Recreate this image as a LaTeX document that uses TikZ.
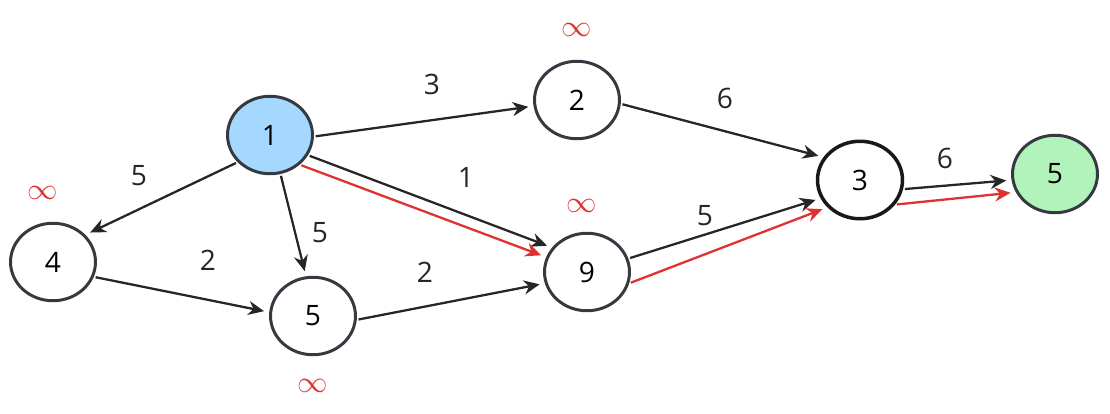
\documentclass[tikz,border=0pt]{standalone}
\usepackage{fontspec}
\setmainfont{Open Sans}
\usetikzlibrary{shapes.geometric,arrows.meta}
\definecolor{nodeline}{HTML}{343A40}
\definecolor{startfill}{HTML}{A5D8FF}
\definecolor{endfill}{HTML}{B2F2BB}
\definecolor{pathred}{HTML}{E03131}
\tikzset{
	vertex/.style={ellipse, draw=nodeline, line width=1.7pt, fill=white, minimum width=1.7cm, minimum height=1.55cm, font=\fontsize{16}{18}\selectfont},
	edge/.style={-{Stealth[length=9pt,width=8pt]}, line width=1.3pt, draw=black!85, shorten <=1pt, shorten >=3pt},
	best/.style={edge, draw=pathred},
	weight/.style={font=\fontsize{16}{18}\selectfont, text=black!85},
	dist/.style={font=\fontsize{16}{18}\selectfont, text=pathred}
}
\begin{document}
\begin{tikzpicture}[x=0.02cm, y=-0.02cm]
	\useasboundingbox (0,0) rectangle (1110,413);

	\node[vertex, fill=startfill] (n1) at (270,135) {1};
	\node[vertex] (n2) at (577,100) {2};
	\node[vertex] (n4) at (53,262) {4};
	\node[vertex] (n5a) at (313,316) {5};
	\node[vertex] (n9) at (587,272) {9};
	\node[vertex, line width=2pt, draw=black!90] (n3) at (860,180) {3};
	\node[vertex, fill=endfill] (n5b) at (1055,174) {5};

	\node[dist] (inf2) at (577,30) {$\infty$};
	\node[dist] (inf4) at (43,193) {$\infty$};
	\node[dist] (inf9) at (582,206) {$\infty$};
	\node[dist] (inf5) at (313,386) {$\infty$};

	\draw[edge] (n1.-2) -- (n2.188);
	\draw[edge] (n2.-5) -- (n3.148);
	\draw[edge] (n1.220) -- (n4.40);
	\draw[edge] (n1.-75) -- (n5a.100);
	\draw[edge] (n1.-28) -- (n9.145);
	\draw[best] (n1.-45) -- (n9.160);
	\draw[edge] (n4.-20) -- (n5a.175);
	\draw[edge] (n5a.-5) -- (n9.195);
	\draw[edge] (n9.18) -- (n3.205);
	\draw[best] (n9.-15) -- (n3.220);
	\draw[edge] (n3.-12) -- (n5b.188);
	\draw[best] (n3.-35) -- (n5b.205);

	\node[weight] (w12) at (432,84) {3};
	\node[weight] (w23) at (725,98) {6};
	\node[weight] (w14) at (139,176) {5};
	\node[weight] (w15) at (320,233) {5};
	\node[weight] (w19) at (466,177) {1};
	\node[weight] (w45) at (208,260) {2};
	\node[weight] (w59) at (425,272) {2};
	\node[weight] (w93) at (705,216) {5};
	\node[weight] (w35) at (945,158) {6};
\end{tikzpicture}
\end{document}
